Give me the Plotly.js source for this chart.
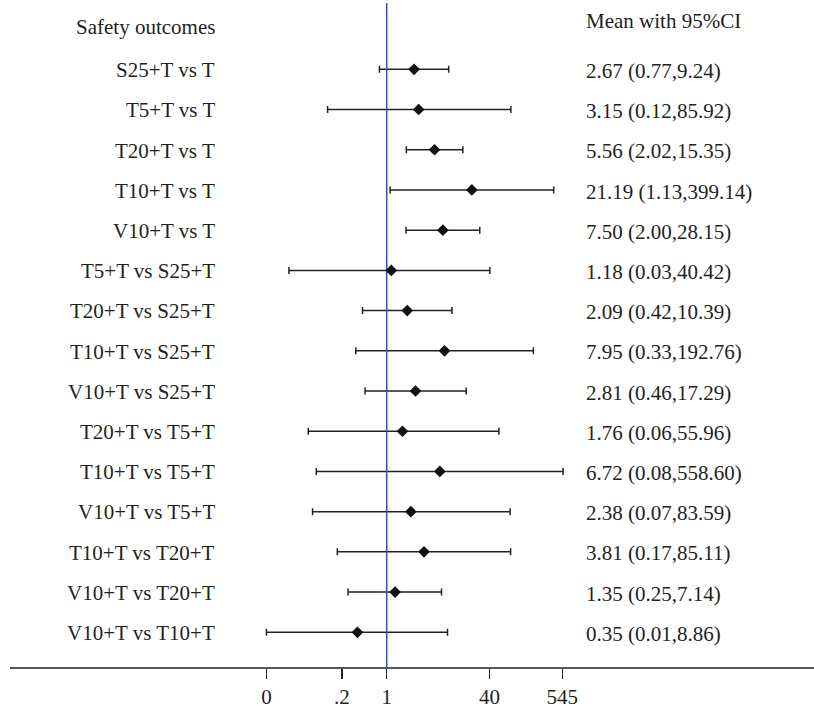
<!DOCTYPE html>
<html>
<head>
<meta charset="utf-8">
<script src="https://cdn.plot.ly/plotly-3.0.1.min.js"></script>
<style>html,body{margin:0;padding:0;background:#fff;}#chart{width:814px;height:709px;}</style>
</head>
<body>
<div id="chart"></div>
<script>
const categories = ["S25+T vs T","T5+T vs T","T20+T vs T","T10+T vs T","V10+T vs T","T5+T vs S25+T","T20+T vs S25+T","T10+T vs S25+T","V10+T vs S25+T","T20+T vs T5+T","T10+T vs T5+T","V10+T vs T5+T","T10+T vs T20+T","V10+T vs T20+T","V10+T vs T10+T"];
const meanValues = [2.67,3.15,5.56,21.19,7.50,1.18,2.09,7.95,2.81,1.76,6.72,2.38,3.81,1.35,0.35];
const lowerCI = [0.77,0.12,2.02,1.13,2.00,0.03,0.42,0.33,0.46,0.06,0.08,0.07,0.17,0.25,0.0134];
const upperCI = [9.24,85.92,15.35,399.14,28.15,40.42,10.39,192.76,17.29,55.96,558.60,83.59,85.11,7.14,8.86];
const tickValues = [0.0134, 0.2, 1, 40, 545];
const tickLabels = ["0", ".2", "1", "40", "545"];
const nullValue = 1;
const leftHeader = "Safety outcomes";
const rightHeader = "Mean with 95%CI";

const W = 814, H = 709;
const mL = 10, mR = 0, mT = 3, mB = 42;
const plotW = W - mL - mR;
const yRange = [14.863, -1.649];
const xRange = [-5.868, 6.656];
const FONT = "Liberation Serif";
const FS = 21;
const TXT = "#231f20";

const idx = categories.map((c, i) => i);
const labels = meanValues.map((m, i) => m.toFixed(2) + " (" + lowerCI[i].toFixed(2) + "," + upperCI[i].toFixed(2) + ")");

const traces = [
  {
    type: "scatter", mode: "markers", x: meanValues, y: idx,
    marker: {color: "rgba(0,0,0,0)", size: 1},
    error_x: {type: "data", symmetric: false,
      array: upperCI.map((u, i) => u - meanValues[i]),
      arrayminus: lowerCI.map((l, i) => meanValues[i] - l),
      color: "#222222", thickness: 1.5, width: 3.5},
    hoverinfo: "skip", showlegend: false
  },
  {
    type: "scatter", mode: "lines", x: [nullValue, nullValue], y: [yRange[0] + 1, yRange[1] - 1],
    line: {color: "#3a48c8", width: 1.5}, hoverinfo: "skip", showlegend: false
  },
  {
    type: "scatter", mode: "markers", x: meanValues, y: idx,
    marker: {symbol: "diamond", size: 9, color: "#111111"},
    showlegend: false
  }
];

const px2paper = p => (p - mL) / plotW;
const annotations = [];
categories.forEach((c, i) => {
  annotations.push({text: c, x: px2paper(217), xref: "paper", xanchor: "right", y: i + 0.02, yref: "y", yanchor: "middle", showarrow: false, font: {family: FONT, size: FS, color: TXT}});
  annotations.push({text: labels[i], x: px2paper(584), xref: "paper", xanchor: "left", y: i + 0.04, yref: "y", yanchor: "middle", showarrow: false, font: {family: FONT, size: FS, color: TXT}});
});
annotations.push({text: leftHeader, x: px2paper(217), xref: "paper", xanchor: "right", y: -1.06, yref: "y", yanchor: "middle", showarrow: false, font: {family: FONT, size: FS, color: TXT}});
annotations.push({text: rightHeader, x: px2paper(584), xref: "paper", xanchor: "left", y: -1.21, yref: "y", yanchor: "middle", showarrow: false, font: {family: FONT, size: FS, color: TXT}});

const layout = {
  width: W, height: H,
  margin: {l: mL, r: mR, t: mT, b: mB, pad: 0},
  paper_bgcolor: "#ffffff", plot_bgcolor: "#ffffff",
  font: {family: FONT, size: FS, color: TXT},
  xaxis: {type: "log", range: xRange, showgrid: false, zeroline: false,
    showline: true, linecolor: "#555555", linewidth: 2,
    ticks: "outside", ticklen: 10, tickwidth: 1.5, tickcolor: "#222222",
    tickvals: tickValues, ticktext: tickLabels,
    tickfont: {family: FONT, size: FS, color: TXT}, fixedrange: true},
  yaxis: {range: yRange, visible: false, showgrid: false, zeroline: false, fixedrange: true},
  annotations: annotations,
  showlegend: false
};

Plotly.newPlot("chart", traces, layout, {displayModeBar: false, staticPlot: true});
</script>
</body>
</html>
